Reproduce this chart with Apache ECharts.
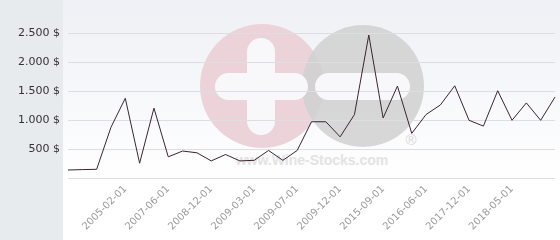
<!DOCTYPE html>
<html>
<head>
<meta charset="utf-8">
<script src="https://cdn.jsdelivr.net/npm/echarts@6/dist/echarts.min.js"></script>
<style>
html,body{margin:0;padding:0;background:#fff;}
#wrap{position:relative;width:560px;height:240px;}
#bg{position:absolute;left:0;top:0;z-index:0;}
#c{position:absolute;left:0;top:0;width:560px;height:240px;z-index:1;}
</style>
</head>
<body>
<div id="wrap">
<svg id="bg" width="560" height="240" xmlns="http://www.w3.org/2000/svg">
  <defs>
    <linearGradient id="g" x1="0" y1="0" x2="0" y2="1">
      <stop offset="0" stop-color="#eef0f5"/>
      <stop offset="0.75" stop-color="#ffffff"/>
      <stop offset="1" stop-color="#ffffff"/>
    </linearGradient>
  </defs>
  <rect x="63" y="0" width="497" height="240" fill="url(#g)"/>
  <rect x="0" y="0" width="63" height="240" fill="#e7ebee"/>
  <circle cx="262" cy="86" r="62" fill="#ecd3da"/>
  <circle cx="363" cy="86" r="61" fill="rgba(208,208,208,0.85)"/>
  <rect x="247" y="38" width="28" height="97" rx="14" fill="#f8f8fa"/>
  <rect x="215" y="73" width="93" height="27" rx="13.5" fill="#f8f8fa"/>
  <rect x="315" y="73" width="95" height="27" rx="13.5" fill="#f8f8fa"/>
  <text x="312" y="165" text-anchor="middle" font-family="Liberation Sans, Arial, sans-serif" font-weight="bold" font-size="14" fill="#e3e3e3">www.Wine-Stocks.com</text>
  <text x="411" y="145" text-anchor="middle" font-family="Liberation Sans, Arial, sans-serif" font-size="15" fill="#d8d8d8">®</text>
</svg>
<div id="c"></div>
</div>
<script>
// Category labels (only every third date is printed on the axis)
const categories = [
  '', '', '', '', '2005-02-01', '', '', '2007-06-01', '', '',
  '2008-12-01', '', '', '2009-03-01', '', '', '2009-07-01', '', '',
  '2009-12-01', '', '', '2015-09-01', '', '', '2016-06-01', '', '',
  '2017-12-01', '', '', '2018-05-01', '', '', ''
];
// Price values ($)
const prices = [
  143, 150, 155, 880, 1380, 260, 1210, 370, 470, 440,
  300, 410, 300, 310, 480, 310, 480, 975, 975, 715,
  1100, 2470, 1040, 1590, 775, 1100, 1265, 1595, 1000, 900,
  1510, 1000, 1300, 1000, 1400
];
const yTicks = [0, 500, 1000, 1500, 2000, 2500];

const chart = echarts.init(document.getElementById('c'), null, {renderer: 'canvas'});
const fmt = v => v === 0 ? '' : v.toLocaleString('de-DE') + ' $';

chart.setOption({
  animation: false,
  backgroundColor: 'transparent',
  grid: {left: 68, right: 5, top: 33.3, bottom: 61.7, containLabel: false},
  xAxis: {
    type: 'category',
    data: categories,
    boundaryGap: false,
    axisLine: {show: false},
    axisTick: {show: false},
    splitLine: {show: false},
    axisLabel: {
      interval: 0, rotate: 45, margin: 9,
      color: '#9a9a9a', fontSize: 10, fontFamily: '"DejaVu Sans", Verdana, sans-serif'
    }
  },
  yAxis: {
    type: 'value',
    min: yTicks[0], max: yTicks[yTicks.length - 1], interval: 500,
    axisLine: {show: false},
    axisTick: {show: false},
    splitLine: {show: true, lineStyle: {color: '#dedee2', width: 1}},
    axisLabel: {
      formatter: fmt, margin: 8,
      color: '#333', fontSize: 11, fontFamily: '"DejaVu Sans", Verdana, sans-serif'
    }
  },
  series: [{
    type: 'line',
    data: prices,
    showSymbol: false,
    symbol: 'none',
    lineStyle: {color: '#3a2430', width: 1},
    z: 20
  }]
});
</script>
</body>
</html>
